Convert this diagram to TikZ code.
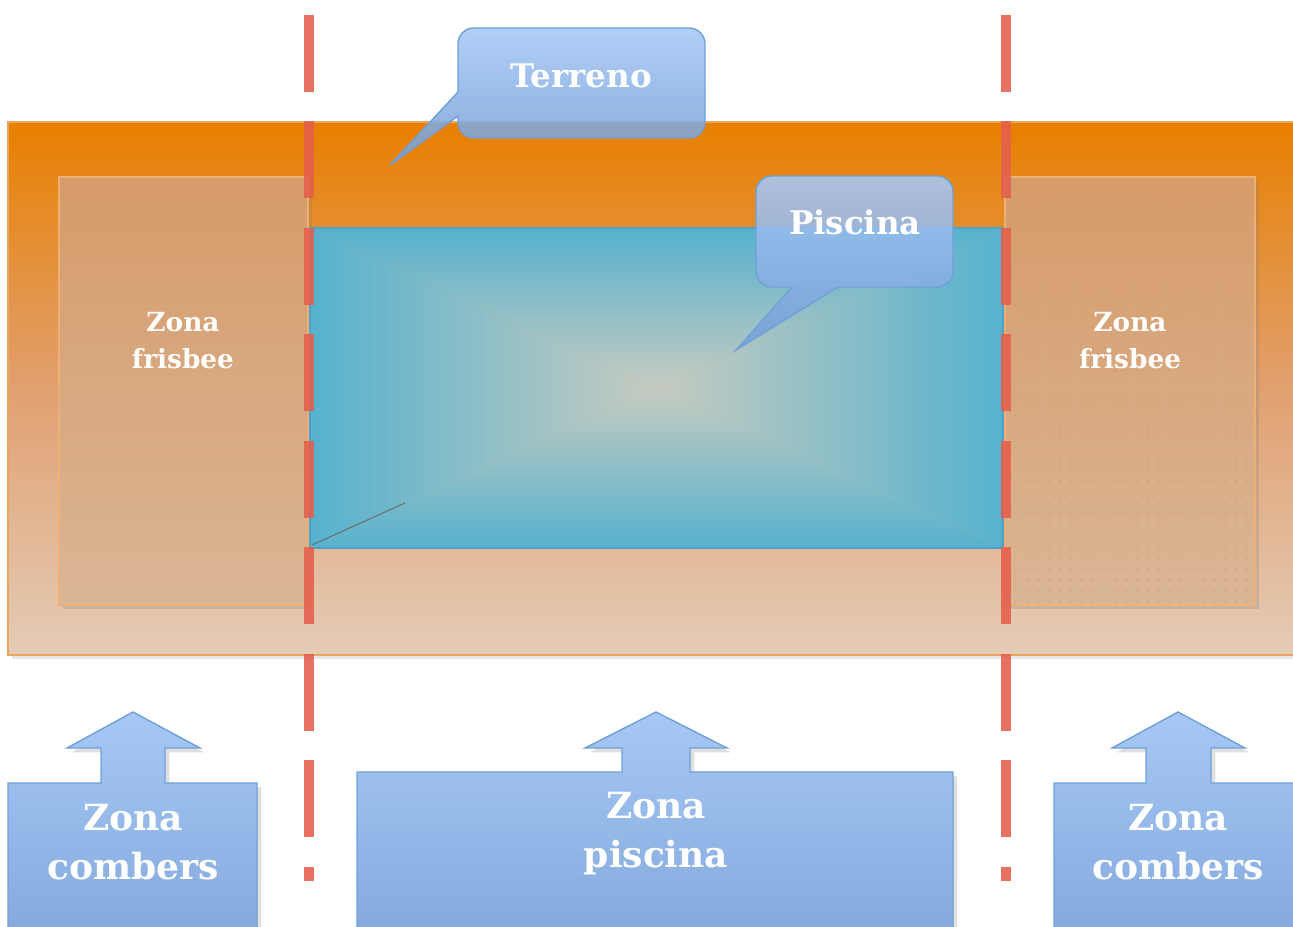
\documentclass[tikz,border=0pt]{standalone}
\usepackage{fontspec}
\setmainfont{DejaVu Serif}
\usetikzlibrary{shadows,calc}
\definecolor{soilTop}{RGB}{232,128,0}
\definecolor{soilMid}{RGB}{225,160,112}
\definecolor{soilLow}{RGB}{228,204,183}
\definecolor{soilEdge}{RGB}{236,165,95}
\definecolor{discTop}{RGB}{214,155,105}
\definecolor{discLow}{RGB}{218,182,150}
\definecolor{discRim}{RGB}{238,176,116}
\definecolor{discDot}{RGB}{224,148,96}
\definecolor{poolEdge}{RGB}{86,178,206}
\definecolor{poolMid}{RGB}{198,203,192}
\definecolor{poolLine}{RGB}{78,160,205}
\definecolor{bubTop}{RGB}{166,200,246}
\definecolor{bubLow}{RGB}{116,158,214}
\definecolor{bubEdge}{RGB}{112,160,215}
\definecolor{markRed}{RGB}{236,98,78}
\tikzset{terrain/.style={
            draw=soilEdge,
            line width=1.5pt,
            top color=soilTop,
            bottom color=soilLow,
            middle color=soilMid,
            drop shadow={opacity=0.2, shadow xshift=2pt, shadow yshift=-2pt}
        },
        disczone/.style={
            draw=discRim,
            line width=0.8pt,
            top color=discTop,
            bottom color=discLow,
            drop shadow={opacity=0.25, shadow xshift=2pt, shadow yshift=-2pt}
        },
        discdot/.style={
            fill=discDot,
            fill opacity=0.6
        },
        poolrim/.style={
            draw=poolLine,
            line width=1.2pt
        },
        seam/.style={
            draw=black!60,
            line width=0.5pt
        },
        cutline/.style={
            draw=markRed,
            draw opacity=0.85,
            line width=0.2cm,
            dash pattern=on 1.54cm off 0.59cm
        },
        cutshade/.style={
            cutline,
            draw=black,
            draw opacity=0.18,
            xshift=3pt,
            yshift=-2pt
        },
        bubble/.style={
            draw=bubEdge,
            line width=0.8pt,
            top color=bubTop,
            bottom color=bubLow,
            fill opacity=0.88
        },
        zonearrow/.style={
            draw=bubEdge,
            line width=0.8pt,
            top color=bubTop,
            bottom color=bubLow!90!white,
            drop shadow={opacity=0.25, shadow xshift=2.5pt, shadow yshift=-2.5pt}
        },
        bubtext/.style={
            text=white,
            font=\bfseries\fontsize{18.5}{22}\selectfont
        },
        disctext/.style={
            text=white,
            align=center,
            font=\bfseries\fontsize{15}{21}\selectfont
        },
        bigtext/.style={
            text=white,
            align=center,
            font=\bfseries\fontsize{20.5}{28}\selectfont
        }
    }
\begin{document}
\begin{tikzpicture}[x=0.02cm,y=-0.02cm]
    \useasboundingbox (0,0) rectangle (1293,926);
    \clip (0,0) rectangle (1293,926);

    % terreno and the two frisbee zones
    \path[terrain] (8,122) rectangle (1310,655);
    \path[disczone] (59,177) rectangle (308,605);
    \path[disczone] (1005,177) rectangle (1255,605);
    \foreach \i in {0,...,21}
        \foreach \j in {0,...,38}
            \fill[discdot] (1016+11*\i,184+11*\j) circle (1.2);

    % piscina
    \coordinate (pc) at (656,388);
    \shade[top color=poolEdge, bottom color=poolMid] (310,228) -- (1003,228) -- (pc) -- cycle;
    \shade[top color=poolMid, bottom color=poolEdge] (310,548) -- (1003,548) -- (pc) -- cycle;
    \shade[left color=poolEdge, right color=poolMid] (310,228) -- (pc) -- (310,548) -- cycle;
    \shade[left color=poolMid, right color=poolEdge] (1003,228) -- (pc) -- (1003,548) -- cycle;
    \draw[poolrim] (310,228) rectangle (1003,548);
    \draw[seam] (312,545) -- (405,503);

    % cut lines
    \coordinate (cutLtop) at (308.5,15);
    \coordinate (cutLbot) at (308.5,881);
    \coordinate (cutRtop) at (1005.5,15);
    \coordinate (cutRbot) at (1005.5,881);
    \draw[cutshade] (cutLtop) -- (cutLbot);
    \draw[cutshade] (cutRtop) -- (cutRbot);
    \draw[cutline] (cutLtop) -- (cutLbot);
    \draw[cutline] (cutRtop) -- (cutRbot);

    \node[disctext] (frisbeeL) at (183,341) {Zona\\frisbee};
    \node[disctext] (frisbeeR) at (1130,341) {Zona\\frisbee};

    % callouts
    \path[bubble] (390,165) -- (458,116) [rounded corners=9pt] -- (458,138) -- (705,138)
        -- (705,28) -- (458,28) [sharp corners] -- (458,92) -- cycle;
    \node[bubtext] (terreno) at (581,76) {Terreno};

    \path[bubble] (736,350) -- (838,287) [rounded corners=9pt] -- (953,287) -- (953,176)
        -- (756,176) -- (756,287) [sharp corners] -- (792,287) -- cycle;
    \node[bubtext] (piscina) at (855,222) {Piscina};

    % zone arrows
    \path[zonearrow] (8,783) -- (101,783) -- (101,748) -- (67,748) -- (133,712) -- (200,748)
        -- (165,748) -- (165,783) -- (257,783) -- (257,945) -- (8,945) -- cycle;
    \node[bigtext] (combersL) at (133,842) {Zona\\combers};

    \path[zonearrow] (357,772) -- (622,772) -- (622,748) -- (585,748) -- (656,712) -- (727,748)
        -- (690,748) -- (690,772) -- (953,772) -- (953,945) -- (357,945) -- cycle;
    \node[bigtext] (zonapool) at (656,834) {Zona\\piscina};

    \path[zonearrow] (1054,783) -- (1146,783) -- (1146,748) -- (1112,748) -- (1178,712) -- (1245,748)
        -- (1211,748) -- (1211,783) -- (1310,783) -- (1310,945) -- (1054,945) -- cycle;
    \node[bigtext] (combersR) at (1178,842) {Zona\\combers};

\end{tikzpicture}
\end{document}
